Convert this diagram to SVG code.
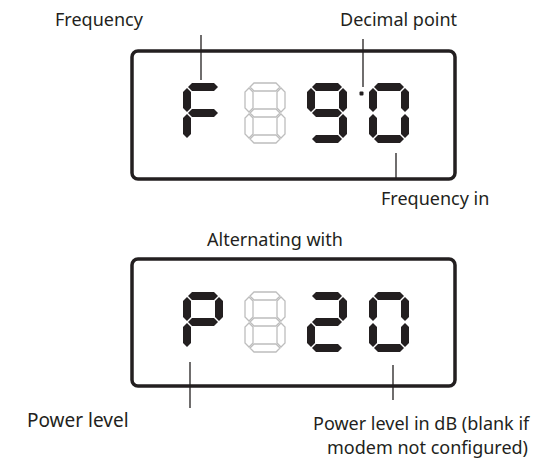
<svg xmlns="http://www.w3.org/2000/svg" xmlns:xlink="http://www.w3.org/1999/xlink" width="544" height="461" viewBox="0 0 544 461">
<style>
.box{fill:none;stroke:#231f20;stroke-width:3.5}
.lead{stroke:#231f20;stroke-width:1.3;fill:none}
.on{fill:#231f20}
.ghost{fill:none;stroke:#bdbdbd;stroke-width:1.3}
.lbl{font-family:"Noto Sans","Open Sans",sans-serif;font-size:18px;fill:#231f20}
.big{font-size:19px}
</style>
<defs>
<polygon id="sa" points="5,4 9,0 31,0 35,4 31,8 9,8"/>
<polygon id="sb" points="36,5 40,9 40,25 36,29 32,25 32,9"/>
<polygon id="sc" points="36,31 40,35 40,51 36,55 32,51 32,35"/>
<polygon id="sd" points="5,56 9,52 31,52 35,56 31,60 9,60"/>
<polygon id="se" points="4,31 8,35 8,51 4,55 0,51 0,35"/>
<polygon id="sf" points="4,5 8,9 8,25 4,29 0,25 0,9"/>
<polygon id="sg" points="5,30 9,26 31,26 35,30 31,34 9,34"/>
<g id="d8" class="ghost"><use href="#sa"/><use href="#sb"/><use href="#sc"/><use href="#sd"/><use href="#se"/><use href="#sf"/><use href="#sg"/></g>
<g id="dF" class="on"><use href="#sa"/><use href="#se"/><use href="#sf"/><use href="#sg"/></g>
<g id="d9" class="on"><use href="#sa"/><use href="#sb"/><use href="#sc"/><use href="#sd"/><use href="#sf"/><use href="#sg"/></g>
<g id="d0" class="on"><use href="#sa"/><use href="#sb"/><use href="#sc"/><use href="#sd"/><use href="#se"/><use href="#sf"/></g>
<g id="dP" class="on"><use href="#sa"/><use href="#sb"/><use href="#se"/><use href="#sf"/><use href="#sg"/></g>
<g id="d2" class="on"><use href="#sa"/><use href="#sb"/><use href="#sd"/><use href="#se"/><use href="#sg"/></g>
</defs>

<g id="display1">
<rect class="box" x="132" y="51" width="323" height="128" rx="6"/>
<use href="#dF" x="183" y="83"/>
<use href="#d8" x="245" y="83"/>
<use href="#d9" x="307" y="83"/>
<rect x="359.5" y="91.5" width="4" height="4" rx="1" class="on"/>
<use href="#d0" x="369" y="83"/>
</g>

<g id="display2">
<rect class="box" x="132" y="259" width="323" height="127" rx="6"/>
<use href="#dP" x="183" y="292"/>
<use href="#d8" x="245" y="292"/>
<use href="#d2" x="307" y="292"/>
<use href="#d0" x="369" y="292"/>
</g>

<g id="connectors">
<line class="lead" x1="201" y1="35" x2="201" y2="80"/>
<line class="lead" x1="363" y1="39" x2="363" y2="87"/>
<line class="lead" x1="396" y1="153" x2="396" y2="179"/>
<line class="lead" x1="190" y1="362" x2="190" y2="408"/>
<line class="lead" x1="393" y1="365" x2="393" y2="400"/>
</g>

<g id="labels">
<text class="lbl" x="55" y="26">Frequency</text>
<text class="lbl" x="340" y="26">Decimal point</text>
<text class="lbl" x="381" y="205">Frequency in</text>
<text class="lbl" x="207" y="246">Alternating with</text>
<text class="lbl big" x="27" y="427">Power level</text>
<text class="lbl" x="313" y="430">Power level in dB (blank if</text>
<text class="lbl" x="327" y="454">modem not configured)</text>
</g>
</svg>
